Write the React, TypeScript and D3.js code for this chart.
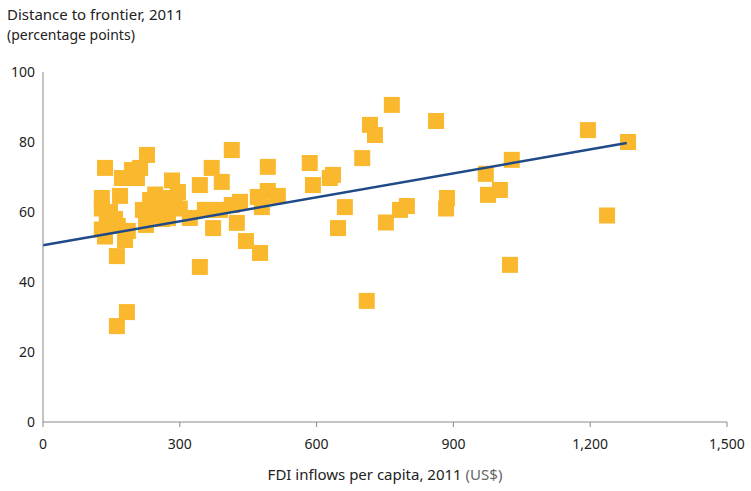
import React from 'react'
import * as d3 from 'd3'

// FDI inflows per capita (US$) vs distance to frontier (pp)
const fdi = [136, 129, 129, 129, 136, 147, 158, 164, 162, 169, 173, 186, 162, 184, 180, 195, 213, 206, 219, 228, 226, 235, 246, 250, 257, 268, 279, 283, 289, 296, 274, 322, 344, 344, 355, 370, 373, 388, 392, 414, 425, 414, 432, 445, 471, 480, 476, 493, 493, 515, 585, 592, 629, 636, 647, 662, 700, 710, 717, 728, 752, 765, 783, 798, 862, 884, 886, 971, 976, 1002, 1024, 1028, 1195, 1237, 1283, 150, 240, 262, 300, 140]
const dtf = [72.6, 64, 61, 55, 53, 60, 58, 56, 47.4, 64.6, 69.7, 54.6, 27.4, 31.4, 52, 72, 72.6, 69.7, 60.6, 76.3, 56.3, 63.4, 65, 62, 59, 61, 64, 69, 62, 65.7, 58.3, 58.3, 44.3, 67.7, 60.6, 72.6, 55.4, 60.6, 68.6, 77.7, 56.9, 62, 62.9, 51.7, 64.3, 61.4, 48.3, 66, 72.9, 64.6, 74, 67.7, 69.7, 70.6, 55.4, 61.4, 75.4, 34.6, 84.9, 82, 57, 90.6, 60.6, 61.7, 86, 61, 64, 70.9, 64.9, 66.3, 44.9, 74.9, 83.4, 59, 80, 57, 60, 58, 61, 59]
const trendX = [0, 1280]
const trendY = [50.5, 79.7]
const xTicks = [0, 300, 600, 900, 1200, 1500]
const yTicks = [0, 20, 40, 60, 80, 100]

export default function App() {
  const x = d3.scaleLinear().domain([0, 1500]).range([43, 727])
  const y = d3.scaleLinear().domain([0, 100]).range([422, 72])
  const s = 16
  const font = "'Noto Sans', sans-serif"
  const line = d3.line<number>().x((d) => x(d)).y((_, i) => y(trendY[i]))
  return (
    <svg width={751} height={491} style={{ position: 'absolute', left: 0, top: 0 }} fontFamily={font}>
      <text x={7} y={20} fontSize={15} fill="#222">Distance to frontier, 2011</text>
      <text x={7} y={40} fontSize={14} fill="#222">(percentage points)</text>
      {yTicks.map((t) => (
        <text key={t} x={35} y={y(t) + 5} fontSize={14} textAnchor="end" fill="#222">{t}</text>
      ))}
      {fdi.map((v, i) => (
        <rect key={i} x={x(v) - s / 2} y={y(dtf[i]) - s / 2} width={s} height={s} fill="#F9B82D" />
      ))}
      <path d={line(trendX) || ''} stroke="#1F4A87" strokeWidth={2.5} fill="none" />
      <line x1={43} x2={727} y1={422} y2={422} stroke="#888" />
      <line x1={43} x2={43} y1={72} y2={422} stroke="#888" />
      {xTicks.map((t) => (
        <g key={t}>
          <line x1={x(t)} x2={x(t)} y1={422} y2={427} stroke="#888" />
          <text x={x(t)} y={449} fontSize={14} textAnchor="middle" fill="#222">{d3.format(',')(t)}</text>
        </g>
      ))}
      <text x={385} y={480} fontSize={15} textAnchor="middle" fill="#222">
        FDI inflows per capita, 2011 <tspan fill="#666">(US$)</tspan>
      </text>
    </svg>
  )
}
